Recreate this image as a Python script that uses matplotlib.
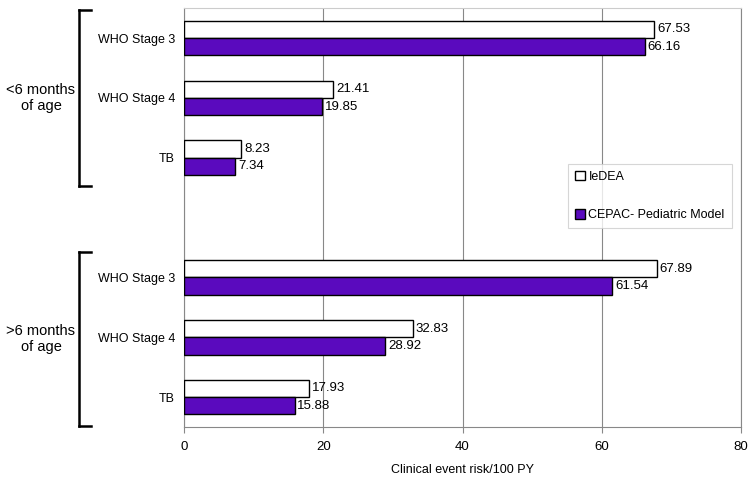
import matplotlib.pyplot as plt
import numpy as np
from matplotlib.patches import Patch

plt.rcParams['font.family'] = ['Liberation Sans', 'DejaVu Sans']

categories = ['WHO Stage 3', 'WHO Stage 4', 'TB', '', 'WHO Stage 3', 'WHO Stage 4', 'TB']
iedea = [67.53, 21.41, 8.23, None, 67.89, 32.83, 17.93]
cepac = [66.16, 19.85, 7.34, None, 61.54, 28.92, 15.88]
groups = ['<6 months\nof age', '>6 months\nof age']
xticks = [0, 20, 40, 60, 80]

purple = '#5a0abe'
h = 0.29

fig = plt.figure(figsize=(7.56, 4.8), dpi=100)
ax = fig.add_axes([0.2434, 0.1104, 0.7368, 0.8726])

pos = np.arange(len(categories))
for i, (a, b) in enumerate(zip(iedea, cepac)):
    if a is None:
        continue
    ax.barh(i - h / 2, a, height=h, color='white', edgecolor='black', linewidth=1, zorder=3)
    ax.barh(i + h / 2, b, height=h, color=purple, edgecolor='black', linewidth=1, zorder=3)
    ax.text(a + 0.4, i - h / 2, f'{a:.2f}', va='center', ha='left', fontsize=9.5)
    ax.text(b + 0.4, i + h / 2, f'{b:.2f}', va='center', ha='left', fontsize=9.5)

ax.set_xlim(0, 80)
ax.set_ylim(6.5, -0.5)
ax.set_xticks(xticks)
ax.set_yticks(pos)
ax.set_yticklabels(categories, fontsize=9)
ax.tick_params(axis='y', length=0, pad=6.5)
ax.tick_params(axis='x', length=4, color='#888888', labelsize=9.5, pad=6)
ax.xaxis.grid(True, color='#888888', linewidth=0.8, zorder=0)
ax.set_xlabel('Clinical event risk/100 PY', fontsize=9, labelpad=8)
for s in ax.spines.values():
    s.set_color('#888888')
ax.spines['top'].set_color('#cccccc')

handles = [Patch(facecolor='white', edgecolor='black', label='IeDEA'),
           Patch(facecolor=purple, edgecolor='black', label='CEPAC- Pediatric Model')]
leg = ax.legend(handles=handles, loc='upper left', bbox_to_anchor=(0.689, 0.628),
                fontsize=9, frameon=True, fancybox=False, labelspacing=2.1,
                handlelength=0.8, handleheight=0.8, handletextpad=0.3,
                borderpad=0.55, borderaxespad=0)
leg.get_frame().set_edgecolor('#cccccc')
leg.get_frame().set_linewidth(0.8)

# group brackets in figure coordinates
for (y0, y1), label in zip([(10, 186), (252, 426)], groups):
    f0 = 1 - y0 / 480
    f1 = 1 - y1 / 480
    fig.add_artist(plt.Line2D([79 / 756, 79 / 756], [f0, f1], color='black', linewidth=1.8))
    fig.add_artist(plt.Line2D([79 / 756, 91 / 756], [f0, f0], color='black', linewidth=1.8))
    fig.add_artist(plt.Line2D([79 / 756, 91 / 756], [f1, f1], color='black', linewidth=1.8))
    fig.text(41 / 756, (f0 + f1) / 2, label, ha='center', va='center', fontsize=10.5,
             linespacing=1.2)

plt.savefig('out.png', dpi=100)
